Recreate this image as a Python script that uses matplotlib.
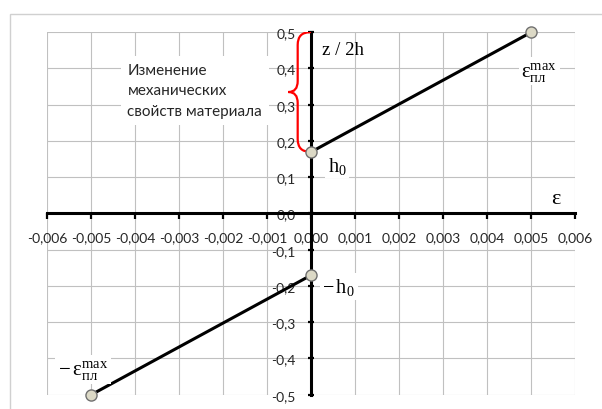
import matplotlib
matplotlib.use('Agg')
import matplotlib.pyplot as plt
from matplotlib.path import Path
from matplotlib.patches import PathPatch, Rectangle
from matplotlib.ticker import FuncFormatter
import numpy as np

# деформация по толщине: eps от -eps_max до eps_max, z/2h от -0.5 до 0.5
h0 = 0.17
eps_max = 0.005
upper_eps = [0.0, eps_max]
upper_z = [h0, 0.5]
lower_eps = [-eps_max, 0.0]
lower_z = [-0.5, -h0]

x_ticks = np.round(np.arange(-6, 7) * 0.001, 3)
y_ticks = np.round(np.arange(-5, 6) * 0.1, 1)

plt.rcParams['font.family'] = ['Lato', 'DejaVu Sans']
plt.rcParams['mathtext.fontset'] = 'custom'
plt.rcParams['mathtext.rm'] = 'Liberation Serif'
plt.rcParams['mathtext.it'] = 'Liberation Serif'

fig = plt.figure(figsize=(6.02, 4.10), dpi=100)
fig.patches.append(Rectangle((10 / 602, -0.1), 1.0, (410 - 15) / 410 + 0.1,
                             transform=fig.transFigure, fill=False,
                             ec='#d0d0d0', lw=1))
ax = fig.add_axes([0.0786, 0.0349, 0.8771, 0.8841])

ax.set_xlim(-0.006, 0.006)
ax.set_ylim(-0.5, 0.5)
ax.set_xticks(x_ticks)
ax.set_yticks(y_ticks)
ax.xaxis.set_major_formatter(FuncFormatter(lambda v, _: f'{v:.3f}'.replace('.', ',')))
ax.yaxis.set_major_formatter(FuncFormatter(lambda v, _: f'{v:.1f}'.replace('.', ',')))

ax.grid(True, color='#c0c0c0', lw=0.8)
ax.set_axisbelow(True)
for s in ['top', 'right']:
    ax.spines[s].set_visible(False)
ax.spines['left'].set_position(('data', 0))
ax.spines['bottom'].set_position(('data', 0))
for s in ['left', 'bottom']:
    ax.spines[s].set_linewidth(2.2)
    ax.spines[s].set_zorder(3)
ax.tick_params(axis='y', direction='inout', length=4.5, width=1.6, pad=9,
               labelsize=10, labelcolor='#262626')
ax.tick_params(axis='x', direction='out', length=4, width=1.6, pad=9,
               labelsize=10, labelcolor='#262626')

# линии и точки
for xs, ys in [(upper_eps, upper_z), (lower_eps, lower_z)]:
    ax.plot(xs, ys, color='black', lw=2.2, zorder=4, solid_capstyle='butt')
    ax.plot(xs, ys, 'o', ms=8, mfc='#dcd9c6', mec='#707070', mew=1,
            zorder=6, clip_on=False)

# фигурная скобка
xe, xb, xt = -0.00003, -0.00031, -0.00052
top, bot = 0.5, h0
mid = (top + bot) / 2
r, rm = 0.035, 0.03
verts = [(xe, top), (xb, top), (xb, top - r),
         (xb, mid + rm),
         (xb, mid), (xt, mid),
         (xb, mid), (xb, mid - rm),
         (xb, bot + r),
         (xb, bot), (xe, bot)]
codes = [Path.MOVETO, Path.CURVE3, Path.CURVE3,
         Path.LINETO,
         Path.CURVE3, Path.CURVE3,
         Path.CURVE3, Path.CURVE3,
         Path.LINETO,
         Path.CURVE3, Path.CURVE3]
ax.add_patch(PathPatch(Path(verts, codes), fc='none', ec='#ff0000', lw=1.6,
                       zorder=5, capstyle='round'))

white = dict(fc='white', ec='none', pad=2)
ax.text(-0.00418, 0.34, 'Изменение\nмеханических\nсвойств материала',
        fontsize=11, color='#262626', ha='left', va='center', linespacing=1.6,
        bbox=dict(fc='white', ec='none', pad=5), zorder=5)
ax.text(0.00024, 0.44, 'z / 2h', family='Liberation Serif', fontsize=13.5,
        ha='left', va='baseline', zorder=5)
ax.text(0.00037, 0.118, r'$\mathrm{h}_{0}$', fontsize=14.5,
        ha='left', va='baseline', bbox=white, zorder=5)
ax.text(0.00025, -0.217, r'$-\,\mathrm{h}_{0}$', fontsize=14.5,
        ha='left', va='baseline', bbox=white, zorder=5)
ax.text(0.00558, 0.03, r'$\mathrm{ε}$', fontsize=16,
        ha='center', va='baseline', zorder=5)
ax.text(0.00477, 0.38, r'$\mathrm{ε}_{\mathrm{пл}}^{\mathrm{max}}$', fontsize=15,
        ha='left', va='baseline', bbox=white, zorder=5)
ax.text(-0.00576, -0.443, r'$-\,\mathrm{ε}_{\mathrm{пл}}^{\mathrm{max}}$', fontsize=15,
        ha='left', va='baseline', bbox=white, zorder=5)

fig.savefig('out.png', dpi=100)
